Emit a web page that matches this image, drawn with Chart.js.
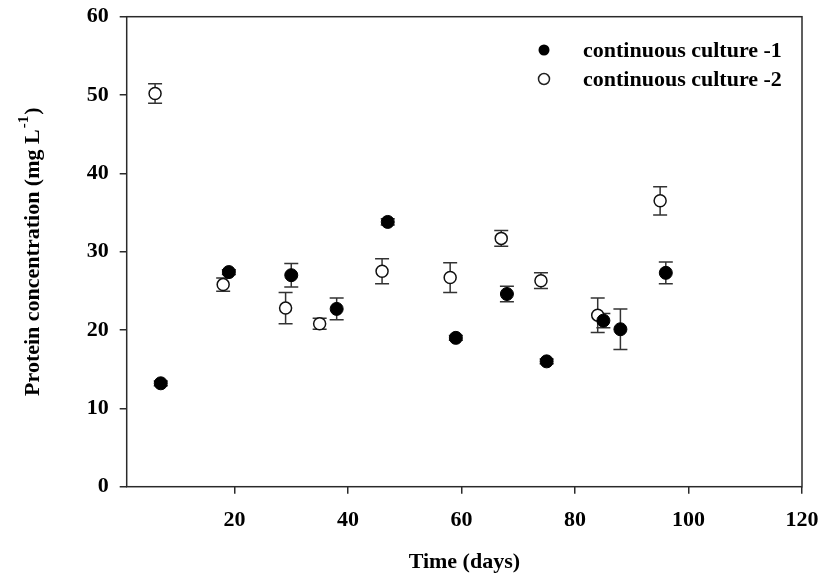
<!DOCTYPE html>
<html>
<head>
<meta charset="utf-8">
<script src="https://cdn.jsdelivr.net/npm/chart.js@4.4.1/dist/chart.umd.min.js"></script>
<style>
html,body{margin:0;padding:0;background:#fff;}
#wrap{width:823px;height:581px;position:relative;}
</style>
</head>
<body>
<div id="wrap"><canvas id="c" width="823" height="581"></canvas></div>
<script>
// ---- data ----
const xTicks = [20, 40, 60, 80, 100, 120];
const yTicks = [0, 10, 20, 30, 40, 50, 60];
const seriesNames = ["continuous culture -1", "continuous culture -2"];
const days1 = [7, 19, 30, 38, 47, 59, 68, 75, 85, 88, 96];
const protein1 = [13.2, 27.4, 27.0, 22.7, 33.8, 19.0, 24.6, 16.0, 21.2, 20.1, 27.3];
const err1 = [0.3, 0.3, 1.5, 1.4, 0.4, 0.3, 1.0, 0.3, 0.9, 2.6, 1.4];
const days2 = [6, 18, 29, 35, 46, 58, 67, 74, 84, 95];
const protein2 = [50.2, 25.8, 22.8, 20.8, 27.5, 26.7, 31.7, 26.3, 21.9, 36.5];
const err2 = [1.25, 0.85, 2.0, 0.7, 1.6, 1.9, 1.0, 1.0, 2.2, 1.8];
const xTitle = "Time (days)";
const yTitleMain = "Protein concentration (mg L";
const yTitleSup = "-1";
const yTitleEnd = ")";

const FONT = "'Liberation Serif', 'Times New Roman', serif";
const AX = '#2a2a2a';

const toPts = (xs, ys) => xs.map((x, i) => ({x: x, y: ys[i]}));

const errorBars = {
  id: 'errorBars',
  beforeDatasetsDraw(chart) {
    const ctx = chart.ctx, xs = chart.scales.x, ys = chart.scales.y;
    const sets = [[days1, protein1, err1], [days2, protein2, err2]];
    ctx.save();
    ctx.strokeStyle = '#333';
    ctx.lineWidth = 1.5;
    sets.forEach(([dx, dy, de]) => {
      dx.forEach((d, i) => {
        const px = xs.getPixelForValue(d);
        const top = ys.getPixelForValue(dy[i] + de[i]);
        const bot = ys.getPixelForValue(dy[i] - de[i]);
        ctx.beginPath();
        ctx.moveTo(px, top); ctx.lineTo(px, bot);
        ctx.moveTo(px - 7, top); ctx.lineTo(px + 7, top);
        ctx.moveTo(px - 7, bot); ctx.lineTo(px + 7, bot);
        ctx.stroke();
      });
    });
    ctx.restore();
  }
};

const frameAndText = {
  id: 'frameAndText',
  afterDraw(chart) {
    const ctx = chart.ctx, a = chart.chartArea;
    ctx.save();
    ctx.strokeStyle = AX;
    ctx.lineWidth = 1.5;
    ctx.strokeRect(a.left, a.top, a.right - a.left, a.bottom - a.top);
    ctx.fillStyle = '#000';
    // x title
    ctx.font = 'bold 22px ' + FONT;
    ctx.textAlign = 'center';
    ctx.textBaseline = 'middle';
    ctx.fillText(xTitle, (a.left + a.right) / 2, 562);
    // y title with superscript
    ctx.save();
    ctx.translate(33, (a.top + a.bottom) / 2);
    ctx.rotate(-Math.PI / 2);
    ctx.textAlign = 'left';
    ctx.textBaseline = 'middle';
    ctx.font = 'bold 22px ' + FONT;
    const w1 = ctx.measureText(yTitleMain).width;
    ctx.font = 'bold 15px ' + FONT;
    const w2 = ctx.measureText(yTitleSup).width;
    ctx.font = 'bold 22px ' + FONT;
    const w3 = ctx.measureText(yTitleEnd).width;
    let x0 = -(w1 + w2 + w3 + 2) / 2;
    ctx.fillText(yTitleMain, x0, 0);
    ctx.font = 'bold 15px ' + FONT;
    ctx.fillText(yTitleSup, x0 + w1 + 1, -9);
    ctx.font = 'bold 22px ' + FONT;
    ctx.fillText(yTitleEnd, x0 + w1 + w2 + 2, 0);
    ctx.restore();
    // legend
    const rows = [50, 79];
    ctx.font = 'bold 22px ' + FONT;
    ctx.textAlign = 'left';
    ctx.textBaseline = 'middle';
    rows.forEach((ry, i) => {
      ctx.beginPath();
      ctx.arc(544, ry, 5.5, 0, Math.PI * 2);
      if (i === 0) { ctx.fillStyle = '#000'; ctx.fill(); }
      else { ctx.fillStyle = '#fff'; ctx.fill(); ctx.lineWidth = 1.5; ctx.strokeStyle = '#222'; ctx.stroke(); }
      ctx.fillStyle = '#000';
      ctx.fillText(seriesNames[i], 583, ry + 1);
    });
    ctx.restore();
  }
};

function zeroPad(s) { s.paddingLeft = 0; s.paddingRight = 0; s.paddingTop = 0; s.paddingBottom = 0; }

new Chart(document.getElementById('c'), {
  type: 'scatter',
  data: {
    datasets: [
      {
        label: seriesNames[0],
        data: toPts(days1, protein1),
        pointRadius: 6.5,
        pointHoverRadius: 6.5,
        pointBackgroundColor: '#000',
        pointBorderColor: '#000',
        pointBorderWidth: 1,
        showLine: false
      },
      {
        label: seriesNames[1],
        data: toPts(days2, protein2),
        pointRadius: 6,
        pointHoverRadius: 6,
        pointBackgroundColor: '#fff',
        pointBorderColor: '#111',
        pointBorderWidth: 1.5,
        showLine: false
      }
    ]
  },
  options: {
    responsive: false,
    animation: false,
    events: [],
    layout: {padding: {top: 16.7, right: 21, left: 0, bottom: 0}},
    plugins: {legend: {display: false}, tooltip: {enabled: false}},
    scales: {
      x: {
        type: 'linear',
        min: 1, max: 120,
        afterBuildTicks: s => { s.ticks = xTicks.map(v => ({value: v})); },
        afterFit: s => { s.height = 94.3; zeroPad(s); },
        grid: {drawOnChartArea: false, drawTicks: true, tickLength: 7, color: AX, lineWidth: 1.5},
        border: {display: false},
        ticks: {color: '#000', padding: 13, maxRotation: 0, autoSkip: false, font: {family: FONT, size: 22, weight: 'bold'}}
      },
      y: {
        type: 'linear',
        min: 0, max: 60,
        afterBuildTicks: s => { s.ticks = yTicks.map(v => ({value: v})); },
        afterFit: s => { s.width = 126.7; zeroPad(s); },
        grid: {drawOnChartArea: false, drawTicks: true, tickLength: 7, color: AX, lineWidth: 1.5},
        border: {display: false},
        ticks: {color: '#000', padding: 11, autoSkip: false, font: {family: FONT, size: 22, weight: 'bold'}}
      }
    }
  },
  plugins: [errorBars, frameAndText]
});
</script>
</body>
</html>
